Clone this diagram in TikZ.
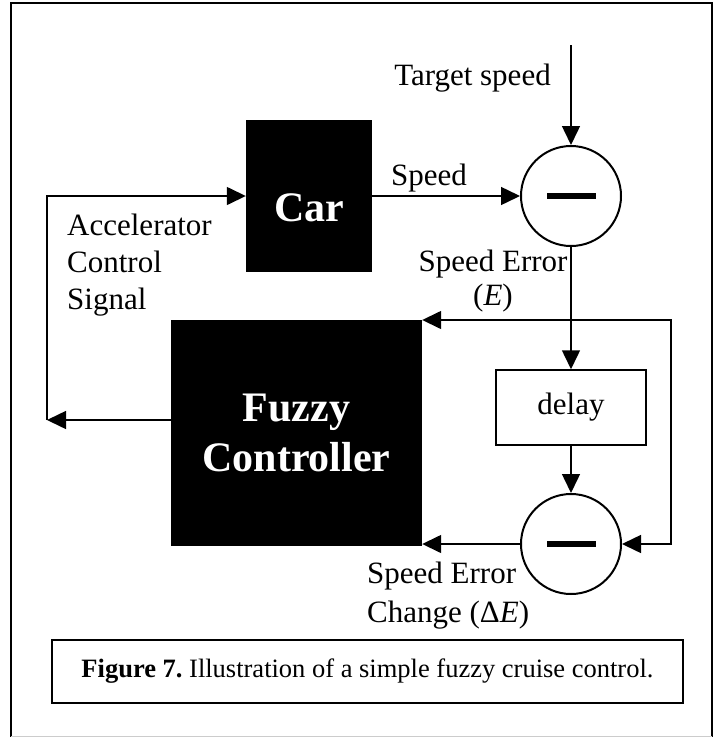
\documentclass[tikz,border=0pt]{standalone}
\usepackage{fontspec}
\setmainfont{Liberation Serif}
\usepackage{tikz}
\usetikzlibrary{arrows.meta,calc,positioning}

\begin{document}
\begin{tikzpicture}[x=1pt,y=-1pt,
    flow/.style={-{Triangle[length=19pt,width=18pt]},line width=1.5pt},
    blackbox/.style={fill=black,text=white,inner sep=0pt,align=center,font=\bfseries\fontsize{42}{50}\selectfont},
    sumnode/.style={circle,draw,line width=2pt,minimum size=100pt,inner sep=0pt},
    lbl/.style={inner sep=0pt,font=\fontsize{31}{37}\selectfont}]
  \useasboundingbox (0,0) rectangle (715,737);
  \draw[line width=1.5pt] (11,737) -- (11,3) -- (712,3) -- (712,737);
  \draw[black!20] (11,736) -- (712,736);

  \node[blackbox,minimum width=126pt,minimum height=152pt] (car) at (309,196) {};
  \node[blackbox] (cartxt) at ([yshift=-11.5pt]car.center) {Car};
  \node[blackbox,minimum width=251pt,minimum height=226pt] (fuzzy) at (296.5,433) {Fuzzy\\Controller};
  \node[sumnode] (sum1) at (571,196) {\rule{49pt}{6.5pt}};
  \node[sumnode] (sum2) at (571,544) {\rule{49pt}{6.5pt}};
  \node[draw,line width=1.5pt,minimum width=150pt,minimum height=75pt,lbl] (delay) at (571,407.5) {delay};

  \coordinate (tgt) at (571,45);
  \coordinate (ej) at (571,320);
  \coordinate (acc) at (47,420);

  \draw[flow] (tgt) -- (sum1.north);
  \draw[flow] (car.east) -- (sum1.west);
  \draw[flow] (sum1.south) -- (delay.north);
  \draw[flow] (ej) -- (ej -| fuzzy.east);
  \draw[flow] (ej) -- ++(100,0) |- (sum2.east);
  \draw[flow] (delay.south) -- (sum2.north);
  \draw[flow] (sum2.west) -- (sum2.west -| fuzzy.east);
  \draw[flow] (acc -| fuzzy.west) -- (acc);
  \draw[flow] (acc) |- (car.west);

  \node[lbl,anchor=base] (tgtlbl) at (472.5,85) {Target speed};
  \node[lbl,anchor=base] (spdlbl) at (429,185) {Speed};
  \node[lbl,anchor=north west,align=left] (acclbl) at (67,214) {Accelerator\\Control\\Signal};
  \node[lbl,anchor=north,align=center,font=\fontsize{31}{34}\selectfont] (errlbl) at (493,250) {Speed Error\\(\textit{E})};
  \node[lbl,anchor=north west,align=left,font=\fontsize{31}{39}\selectfont] (dlbl) at (367,562) {Speed Error\\Change (Δ\textit{E})};

  \node[draw,line width=2pt,minimum width=631pt,minimum height=63pt,
        font=\frenchspacing\fontsize{26.5}{30}\selectfont] (caption) at (367.5,671.5)
        {\textbf{Figure 7.} Illustration of a simple fuzzy cruise control.};
\end{tikzpicture}
\end{document}
